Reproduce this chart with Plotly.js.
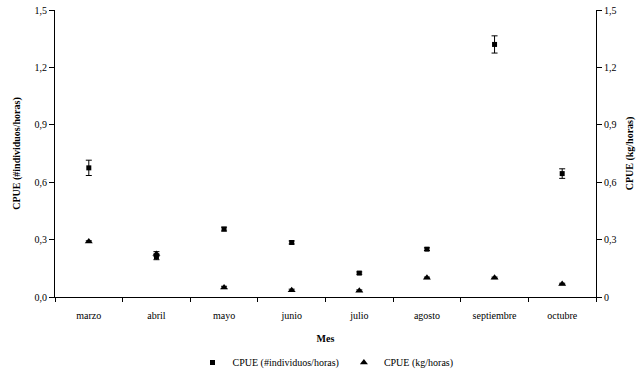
<!DOCTYPE html>
<html><head><meta charset="utf-8">
<script src="https://cdn.plot.ly/plotly-3.0.1.min.js"></script>
<style>body{margin:0;background:#fff}#c{width:641px;height:376px}</style>
</head><body><div id="c"></div>
<script>
const meses = ["marzo","abril","mayo","junio","julio","agosto","septiembre","octubre"];
const cpueInd = [0.675, 0.21, 0.355, 0.285, 0.125, 0.25, 1.32, 0.645];
const cpueIndErr = [0.04, 0.015, 0.01, 0.008, 0.006, 0.007, 0.045, 0.025];
const cpueKg = [0.29, 0.225, 0.05, 0.035, 0.033, 0.1, 0.1, 0.068];
const cpueKgErr = [0.004, 0.012, 0.006, 0.006, 0.004, 0.004, 0.004, 0.004];
const yTicks = [0, 0.3, 0.6, 0.9, 1.2, 1.5];
const yLeftLabels = ["0,0","0,3","0,6","0,9","1,2","1,5"];
const yRightLabels = ["0","0,3","0,6","0,9","1,2","1,5"];

const font = {family: "Liberation Serif, Times New Roman, serif", color: "#000", size: 10};
const traces = [
  {x: meses, y: cpueInd, type: "scatter", mode: "markers", name: "CPUE (#individuos/horas)",
   marker: {symbol: "square", size: 5, color: "#000"},
   error_y: {type: "data", array: cpueIndErr, visible: true, color: "#000", thickness: 1, width: 3}},
  {x: meses, y: cpueKg, type: "scatter", mode: "markers", name: "CPUE (kg/horas)", yaxis: "y2",
   marker: {symbol: "triangle-up", size: 7, color: "#000"},
   error_y: {type: "data", array: cpueKgErr, visible: true, color: "#000", thickness: 1, width: 3}}
];
const layout = {
  width: 641, height: 376,
  margin: {l: 55, r: 45, t: 10, b: 79, autoexpand: false},
  paper_bgcolor: "#fff", plot_bgcolor: "#fff",
  font: font,
  showlegend: true,
  legend: {orientation: "h", x: 0.5, xanchor: "center", y: -0.228, yanchor: "middle",
    font: {family: font.family, size: 10, color: "#000"}, itemwidth: 30, tracegroupgap: 0},
  xaxis: {type: "category", range: [-0.5, 7.5], showline: true, linecolor: "#000", linewidth: 1,
    ticks: "outside", tickson: "boundaries", ticklen: 4, tickcolor: "#000", showgrid: false, zeroline: false,
    ticklabelstandoff: 9,
    tickfont: {family: font.family, size: 10, color: "#000"},
    title: {text: "<b>Mes</b>", font: {family: font.family, size: 10, color: "#000"}, standoff: 14}},
  yaxis: {range: [0, 1.5], tickvals: yTicks, ticktext: yLeftLabels, showline: true, linecolor: "#000", linewidth: 1,
    ticks: "outside", ticklen: 5, tickcolor: "#000", showgrid: false, zeroline: false,
    tickfont: {family: font.family, size: 10, color: "#000"},
    title: {text: "<b>CPUE (#individuos/horas)</b>", font: {family: font.family, size: 10, color: "#000"}, standoff: 12}},
  yaxis2: {range: [0, 1.5], overlaying: "y", side: "right", tickvals: yTicks, ticktext: yRightLabels,
    showline: true, linecolor: "#000", linewidth: 1, ticks: "outside", ticklen: 5, tickcolor: "#000",
    showgrid: false, zeroline: false,
    tickfont: {family: font.family, size: 10, color: "#000"},
    title: {text: "<b>CPUE (kg/horas)</b>", font: {family: font.family, size: 10, color: "#000"}, standoff: 10}}
};
Plotly.newPlot("c", traces, layout, {displayModeBar: false, staticPlot: true});
</script></body></html>
